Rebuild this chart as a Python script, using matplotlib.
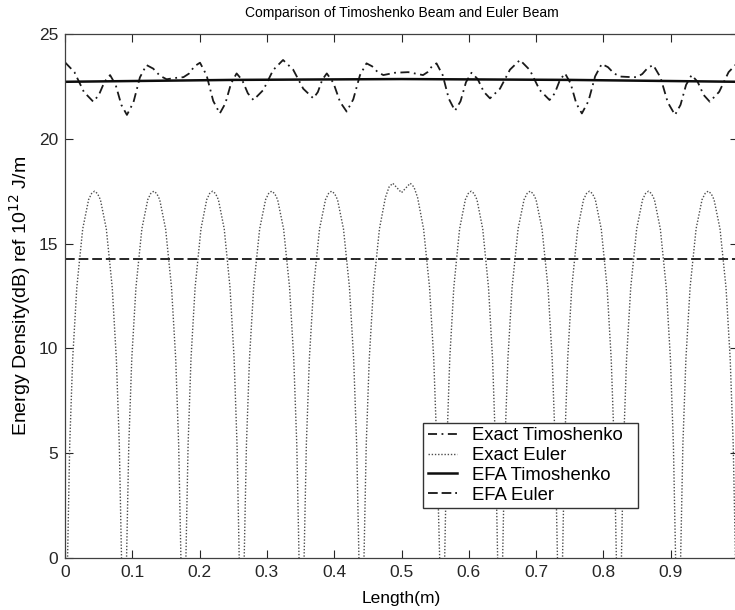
import matplotlib
matplotlib.use("Agg")
import matplotlib.pyplot as plt

plt.rcParams['font.family'] = ['Liberation Sans', 'DejaVu Sans']

# Exact Euler solution: arches between nodes, dropping below 0 dB at each node
euler_x = [0.0, 0.0038, 0.0070, 0.0114, 0.0175, 0.0263, 0.0351, 0.0395, 0.0439, 0.0482, 0.0526, 0.0614, 0.0702, 0.0763, 0.0807, 0.0839, 0.0877,
           0.0915, 0.0948, 0.0992, 0.1054, 0.1142, 0.1230, 0.1274, 0.1319, 0.1363, 0.1407, 0.1495, 0.1583, 0.1645, 0.1689, 0.1722, 0.1760,
           0.1797, 0.1829, 0.1872, 0.1933, 0.2020, 0.2106, 0.2149, 0.2193, 0.2236, 0.2279, 0.2366, 0.2452, 0.2513, 0.2556, 0.2588, 0.2625,
           0.2663, 0.2696, 0.2741, 0.2803, 0.2892, 0.2981, 0.3026, 0.3070, 0.3115, 0.3159, 0.3248, 0.3337, 0.3399, 0.3444, 0.3477, 0.3515,
           0.3553, 0.3586, 0.3631, 0.3693, 0.3782, 0.3871, 0.3916, 0.3960, 0.4005, 0.4049, 0.4138, 0.4227, 0.4289, 0.4334, 0.4367, 0.4405,
           0.4443, 0.4476, 0.4521, 0.4583, 0.4672, 0.4761, 0.4815, 0.4870, 0.5000, 0.5130, 0.5185, 0.5239, 0.5328, 0.5417, 0.5479, 0.5524, 0.5567, 0.5605,
           0.5642, 0.5674, 0.5717, 0.5777, 0.5863, 0.5949, 0.5992, 0.6035, 0.6078, 0.6121, 0.6207, 0.6293, 0.6353, 0.6396, 0.6428, 0.6465,
           0.6503, 0.6536, 0.6581, 0.6643, 0.6732, 0.6821, 0.6866, 0.6910, 0.6955, 0.6999, 0.7088, 0.7177, 0.7239, 0.7284, 0.7317, 0.7355,
           0.7393, 0.7425, 0.7469, 0.7530, 0.7618, 0.7705, 0.7749, 0.7793, 0.7836, 0.7880, 0.7968, 0.8055, 0.8116, 0.8160, 0.8192, 0.8230,
           0.8268, 0.8300, 0.8344, 0.8406, 0.8494, 0.8582, 0.8626, 0.8670, 0.8714, 0.8758, 0.8846, 0.8934, 0.8996, 0.9040, 0.9072, 0.9110,
           0.9148, 0.9181, 0.9226, 0.9288, 0.9377, 0.9466, 0.9511, 0.9555, 0.9600, 0.9644, 0.9733, 0.9822, 0.9884, 0.9929, 0.9962, 1.0]
euler_y = [-6, 0, 5.4, 9.5, 12.9, 15.7, 17.1, 17.39, 17.5, 17.39, 17.1, 15.7, 12.9, 9.5, 5.4, 0, -6,
           0, 5.4, 9.5, 12.9, 15.7, 17.1, 17.39, 17.5, 17.39, 17.1, 15.7, 12.9, 9.5, 5.4, 0, -6,
           0, 5.4, 9.5, 12.9, 15.7, 17.1, 17.39, 17.5, 17.39, 17.1, 15.7, 12.9, 9.5, 5.4, 0, -6,
           0, 5.4, 9.5, 12.9, 15.7, 17.1, 17.39, 17.5, 17.39, 17.1, 15.7, 12.9, 9.5, 5.4, 0, -6,
           0, 5.4, 9.5, 12.9, 15.7, 17.1, 17.39, 17.5, 17.39, 17.1, 15.7, 12.9, 9.5, 5.4, 0, -6,
           0, 5.4, 9.5, 12.9, 15.7, 17.2, 17.7, 17.88, 17.43, 17.88, 17.7, 17.2, 15.7, 12.9, 9.5, 5.4, 0, -6,
           0, 5.4, 9.5, 12.9, 15.7, 17.1, 17.39, 17.5, 17.39, 17.1, 15.7, 12.9, 9.5, 5.4, 0, -6,
           0, 5.4, 9.5, 12.9, 15.7, 17.1, 17.39, 17.5, 17.39, 17.1, 15.7, 12.9, 9.5, 5.4, 0, -6,
           0, 5.4, 9.5, 12.9, 15.7, 17.1, 17.39, 17.5, 17.39, 17.1, 15.7, 12.9, 9.5, 5.4, 0, -6,
           0, 5.4, 9.5, 12.9, 15.7, 17.1, 17.39, 17.5, 17.39, 17.1, 15.7, 12.9, 9.5, 5.4, 0, -6,
           0, 5.4, 9.5, 12.9, 15.7, 17.1, 17.39, 17.5, 17.39, 17.1, 15.7, 12.9, 9.5, 5.4, 0, -6]

# Exact Timoshenko solution
timo_x = [0.0, 0.014, 0.028, 0.042, 0.0503, 0.0587, 0.067, 0.0753, 0.0837, 0.092, 0.1017, 0.1113, 0.121,
          0.131, 0.141, 0.151, 0.163, 0.176, 0.1842, 0.1924, 0.2006, 0.2104, 0.2202, 0.230, 0.2383, 0.2467, 0.255,
          0.2633, 0.2717, 0.280, 0.2947, 0.3093, 0.324, 0.339, 0.354, 0.369, 0.3757, 0.3823, 0.389,
          0.3988, 0.4087, 0.4185, 0.4283, 0.4382, 0.448, 0.4563, 0.4647, 0.473, 0.490, 0.510, 0.532,
          0.5387, 0.5453, 0.552, 0.5612, 0.5703, 0.5795, 0.5877, 0.5958, 0.604, 0.6132, 0.6223, 0.6315,
          0.6463, 0.6612, 0.676, 0.6907, 0.7053, 0.720, 0.7277, 0.7353, 0.743, 0.7513, 0.7597, 0.768,
          0.7778, 0.7877, 0.7975, 0.8067, 0.8158, 0.825, 0.837, 0.8495, 0.8577, 0.8658, 0.874,
          0.8848, 0.8956, 0.9064, 0.9146, 0.9228, 0.931, 0.940, 0.949, 0.958, 0.972, 0.986, 1.0]
timo_y = [23.65, 23.18, 22.24, 21.77, 22.09, 22.72, 23.04, 22.57, 21.62, 21.14, 21.74, 22.93, 23.52,
          23.35, 23.01, 22.84, 22.90, 22.94, 23.11, 23.46, 23.63, 23.03, 21.81, 21.21, 21.69, 22.64, 23.12,
          22.80, 22.17, 21.85, 22.33, 23.28, 23.76, 23.30, 22.39, 21.93, 22.23, 22.82, 23.12,
          22.67, 21.76, 21.30, 21.88, 23.03, 23.60, 23.46, 23.18, 23.04, 23.15, 23.18, 23.04,
          23.18, 23.46, 23.60, 23.04, 21.91, 21.34, 21.79, 22.70, 23.15, 22.85, 22.24, 21.93,
          22.39, 23.30, 23.76, 23.28, 22.33, 21.85, 22.17, 22.80, 23.12, 22.64, 21.69, 21.21,
          21.80, 22.98, 23.57, 23.42, 23.12, 22.97, 22.95, 22.94, 23.09, 23.38, 23.52,
          22.93, 21.74, 21.14, 21.62, 22.57, 23.04, 22.72, 22.09, 21.77, 22.24, 23.18, 23.65]

# EFA solutions
efa_timo_x = [0.0, 0.25, 0.5, 0.75, 1.0]
efa_timo_y = [22.72, 22.81, 22.85, 22.81, 22.72]
efa_euler_x = [0.0, 1.0]
efa_euler_y = [14.25, 14.25]

x_ticks = [0, 0.1, 0.2, 0.3, 0.4, 0.5, 0.6, 0.7, 0.8, 0.9, 1]
x_tick_labels = ['0', '0.1', '0.2', '0.3', '0.4', '0.5', '0.6', '0.7', '0.8', '0.9', '']
y_ticks = [0, 5, 10, 15, 20, 25]

fig = plt.figure(figsize=(7.35, 6.1), dpi=100)
ax = fig.add_axes([65 / 735, 52 / 610, 673 / 735, 524 / 610])

ax.plot(timo_x, timo_y, color='0.1', lw=1.3, linestyle=(0, (5, 2.5, 1, 2.5)), label='Exact Timoshenko')
ax.plot(euler_x, euler_y, color='0.3', lw=1.0, linestyle=(0, (1, 1.3)), label='Exact Euler')
ax.plot(efa_timo_x, efa_timo_y, color='0.05', lw=1.8, linestyle='-', label='EFA Timoshenko')
ax.plot(efa_euler_x, efa_euler_y, color='0.15', lw=1.4, linestyle=(0, (5, 2)), label='EFA Euler')

ax.set_xlim(0, 1)
ax.set_ylim(0, 25)
ax.set_xticks(x_ticks)
ax.set_xticklabels(x_tick_labels)
ax.set_yticks(y_ticks)
ax.tick_params(direction='in', top=True, right=True, length=6, width=0.8,
               labelsize=12.5, colors='0.15', pad=5)
for sp in ax.spines.values():
    sp.set_color('0.25')
    sp.set_linewidth(0.9)

ax.set_xlabel('Length(m)', fontsize=12.5, labelpad=8)
ax.set_ylabel('Energy Density(dB) ref 10$^{12}$ J/m', fontsize=14, labelpad=4)
ax.set_title('Comparison of Timoshenko Beam and Euler Beam', fontsize=10, pad=12)

# legend box stretched horizontally to leave room on the right
leg = ax.legend(loc='lower left', bbox_to_anchor=(0.532, 0.095, 0.32, 0.16), mode='expand',
                fontsize=13.3, frameon=True, fancybox=False, framealpha=1, edgecolor='0.2',
                handlelength=1.6, handletextpad=0.8, labelspacing=0.15, borderpad=0.25,
                borderaxespad=0)
leg.get_frame().set_linewidth(1.0)

fig.savefig('out.png', dpi=100)
